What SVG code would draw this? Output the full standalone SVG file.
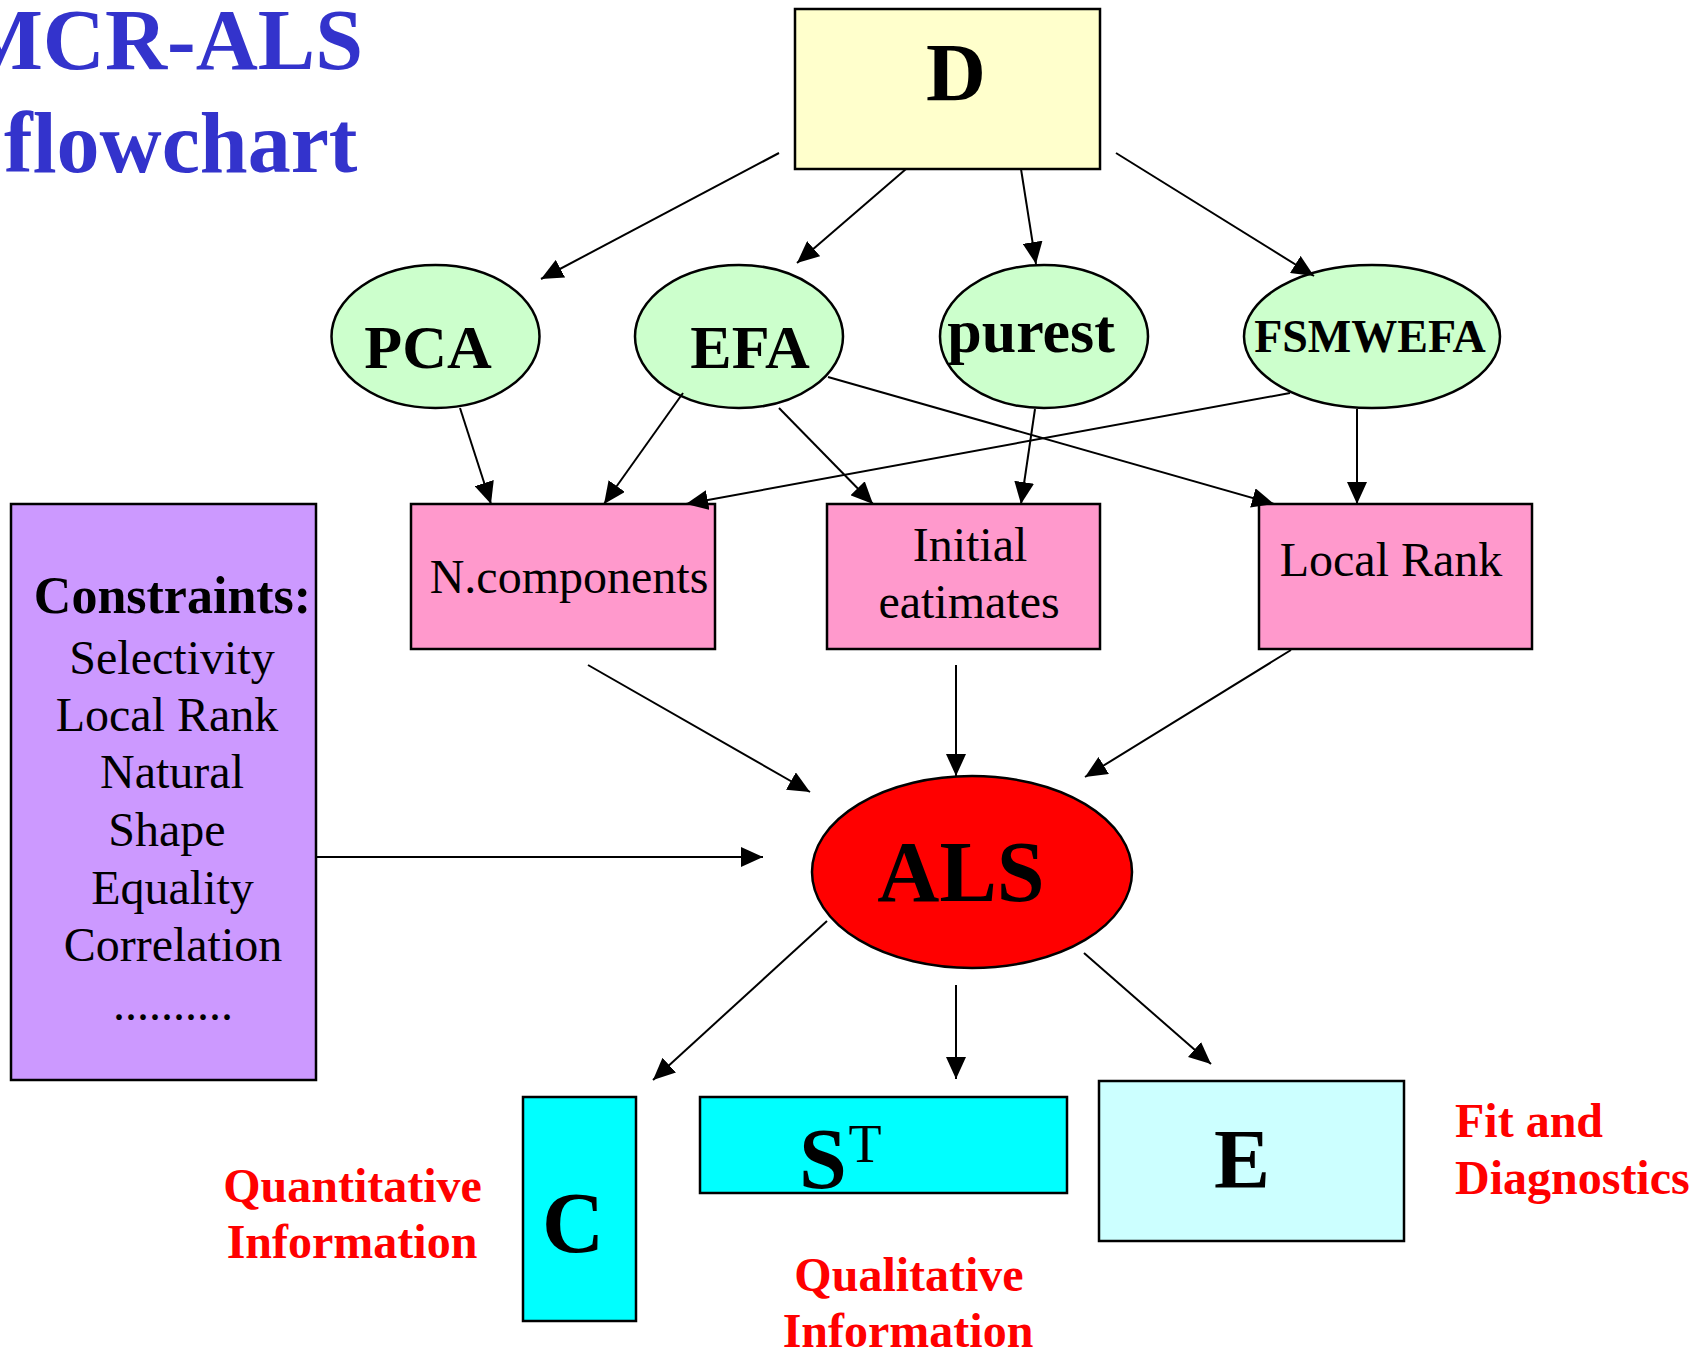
<svg xmlns="http://www.w3.org/2000/svg" width="1693" height="1352" viewBox="0 0 1693 1352">
<style>
text{font-family:"Liberation Serif","Times New Roman",serif;text-anchor:middle}
.b{font-weight:bold}
.box{stroke:#000;stroke-width:2.5}
.title{fill:#3333CC;font-weight:bold;font-size:86px}
.red{fill:#FF0000;font-weight:bold;font-size:48px}
.reg{font-size:48px}
.con line{stroke:#000;stroke-width:2;marker-end:url(#ah)}
</style>
<defs>
<marker id="ah" markerUnits="userSpaceOnUse" markerWidth="22" markerHeight="20" refX="22" refY="10" orient="auto">
<path d="M0,0 L22,10 L0,20 z" fill="#000"/>
</marker>
</defs>
<rect width="1693" height="1352" fill="#fff"/>
<g id="title">
<text class="title" x="363" y="69" style="text-anchor:end">MCR-ALS</text>
<text class="title" x="4" y="172" style="text-anchor:start">flowchart</text>
</g>
<g id="D"><rect class="box" x="795" y="9" width="305" height="160" fill="#FFFFCC"/><text class="b" x="956" y="100" font-size="83">D</text></g>
<g id="PCA"><ellipse class="box" cx="435.5" cy="336.5" rx="104" ry="71.5" fill="#CCFFCC"/><text class="b" x="428" y="368" font-size="62">PCA</text></g>
<g id="EFA"><ellipse class="box" cx="739" cy="336.5" rx="104" ry="71.5" fill="#CCFFCC"/><text class="b" x="750" y="368" font-size="62">EFA</text></g>
<g id="purest"><ellipse class="box" cx="1044" cy="336.5" rx="104" ry="71.5" fill="#CCFFCC"/><text class="b" x="1031" y="352" font-size="62">purest</text></g>
<g id="FSMWEFA"><ellipse class="box" cx="1372" cy="336.5" rx="128" ry="71.5" fill="#CCFFCC"/><text class="b" x="1370" y="352" font-size="46">FSMWEFA</text></g>
<g id="ncomp"><rect class="box" x="411" y="504" width="304" height="145" fill="#FF99CC"/><text class="reg" x="569" y="593">N.components</text></g>
<g id="initial"><rect class="box" x="827" y="504" width="273" height="145" fill="#FF99CC"/><text class="reg" x="970" y="561">Initial</text><text class="reg" x="969" y="618">eatimates</text></g>
<g id="localrank"><rect class="box" x="1259" y="504" width="273" height="145" fill="#FF99CC"/><text class="reg" x="1391" y="576">Local Rank</text></g>
<g id="constraints"><rect class="box" x="11" y="504" width="305" height="576" fill="#CC99FF"/>
<text class="b" x="172.5" y="613" font-size="52">Constraints:</text>
<text class="reg" x="172" y="674">Selectivity</text>
<text class="reg" x="167" y="731">Local Rank</text>
<text class="reg" x="172" y="788">Natural</text>
<text class="reg" x="167" y="846">Shape</text>
<text class="reg" x="172.5" y="904">Equality</text>
<text class="reg" x="173" y="961">Correlation</text>
<text class="reg" x="173" y="1020">..........</text>
</g>
<g id="ALS"><ellipse class="box" cx="972" cy="872" rx="160" ry="96" fill="#FF0000"/><text class="b" x="961" y="901" font-size="86">ALS</text></g>
<g id="C"><rect class="box" x="523" y="1097" width="113" height="224" fill="#00FFFF"/><text class="b" x="573" y="1252" font-size="86">C</text></g>
<g id="ST"><rect class="box" x="700" y="1097" width="367" height="96" fill="#00FFFF"/><text class="b" x="823" y="1188" font-size="86">S</text><text x="865" y="1162" font-size="54">T</text></g>
<g id="E"><rect class="box" x="1099" y="1081" width="305" height="160" fill="#CCFFFF"/><text class="b" x="1242" y="1188" font-size="84">E</text></g>
<g id="labels">
<text class="red" x="352.5" y="1202">Quantitative</text>
<text class="red" x="352" y="1258">Information</text>
<text class="red" x="909" y="1291">Qualitative</text>
<text class="red" x="908" y="1347">Information</text>
<text class="red" x="1455" y="1137" style="text-anchor:start">Fit and</text>
<text class="red" x="1455" y="1194" style="text-anchor:start">Diagnostics</text>
</g>
<g id="connectors" class="con">
<line x1="779" y1="153" x2="541" y2="279"/>
<line x1="906" y1="169" x2="797" y2="263"/>
<line x1="1021" y1="169" x2="1036" y2="264"/>
<line x1="1116" y1="153" x2="1314" y2="276"/>
<line x1="460" y1="408" x2="491" y2="504"/>
<line x1="683" y1="393" x2="604" y2="504"/>
<line x1="779" y1="408" x2="873" y2="504"/>
<line x1="828" y1="377" x2="1274" y2="504"/>
<line x1="1035" y1="409" x2="1021" y2="504"/>
<line x1="1290" y1="393" x2="686" y2="504"/>
<line x1="1357" y1="409" x2="1357" y2="504"/>
<line x1="588" y1="665" x2="810" y2="792"/>
<line x1="956" y1="665" x2="956" y2="776"/>
<line x1="1291" y1="650" x2="1085" y2="777"/>
<line x1="316" y1="857" x2="763" y2="857"/>
<line x1="827" y1="921" x2="653" y2="1080"/>
<line x1="956" y1="985" x2="956" y2="1079"/>
<line x1="1084" y1="953" x2="1211" y2="1064"/>
</g>
</svg>
